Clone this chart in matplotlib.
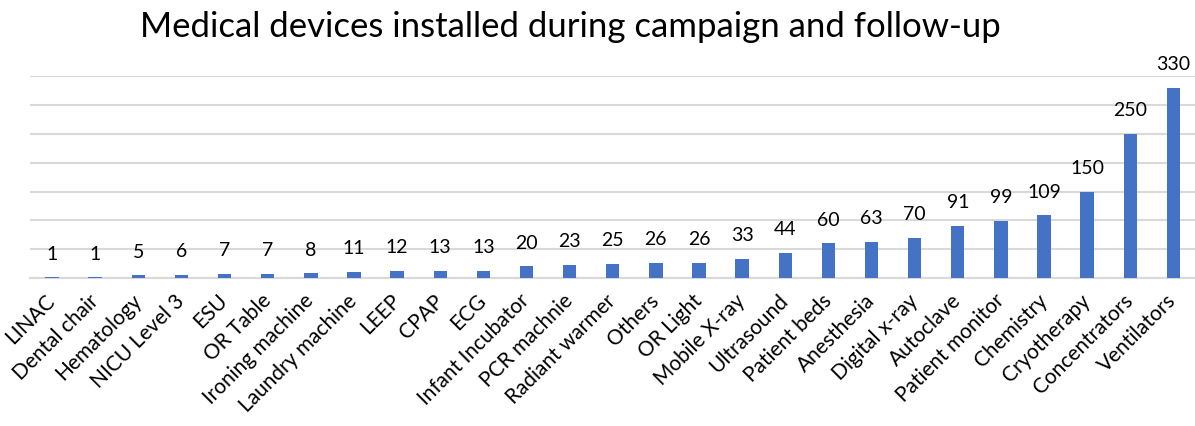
import matplotlib.pyplot as plt

# installed device counts per type
devices = ["LINAC", "Dental chair", "Hematology", "NICU Level 3", "ESU", "OR Table",
           "Ironing machine", "Laundry machine", "LEEP", "CPAP", "ECG", "Infant Incubator",
           "PCR machnie", "Radiant warmer", "Others", "OR Light", "Mobile X-ray", "Ultrasound",
           "Patient beds", "Anesthesia", "Digital x-ray", "Autoclave", "Patient monitor",
           "Chemistry", "Cryotherapy", "Concentrators", "Ventilators"]
counts = [1, 1, 5, 6, 7, 7, 8, 11, 12, 13, 13, 20, 23, 25, 26, 26, 33, 44,
          60, 63, 70, 91, 99, 109, 150, 250, 330]
grid_ticks = [0, 50, 100, 150, 200, 250, 300, 350]

plt.rcParams['font.family'] = ['Lato', 'DejaVu Sans']

fig = plt.figure(figsize=(11.95, 4.27), dpi=100)
ax = fig.add_axes([0.0255, 0.3466, 0.9745, 0.4724])

x = range(len(devices))
bars = ax.bar(x, counts, width=0.31, color="#4472C4", zorder=3)

for xi, v in zip(x, counts):
    ax.annotate(str(v), (xi, v), xytext=(0, 13.4), textcoords="offset points",
                ha="center", va="baseline", fontsize=14, color="black")

ax.set_xlim(-0.5, len(devices) - 0.5)
ax.set_ylim(0, 350)
ax.set_yticks(grid_ticks)
ax.tick_params(axis="y", left=False, labelleft=False)
ax.grid(axis="y", color="#D9D9D9", linewidth=1.5, zorder=0)

ax.set_xticks(list(x))
ax.set_xticklabels(devices, rotation=45, ha="right", va="center",
                   rotation_mode="anchor", fontsize=15)
ax.tick_params(axis="x", length=0, pad=13.5)

for side in ["top", "right", "left"]:
    ax.spines[side].set_visible(False)
ax.spines["bottom"].set_color("#D9D9D9")
ax.spines["bottom"].set_linewidth(1.5)

fig.text(570 / 1195, 1 - 27 / 427, "Medical devices installed during campaign and follow-up",
         ha="center", va="center", fontsize=25, color="black")

fig.savefig("out.png", dpi=100)
